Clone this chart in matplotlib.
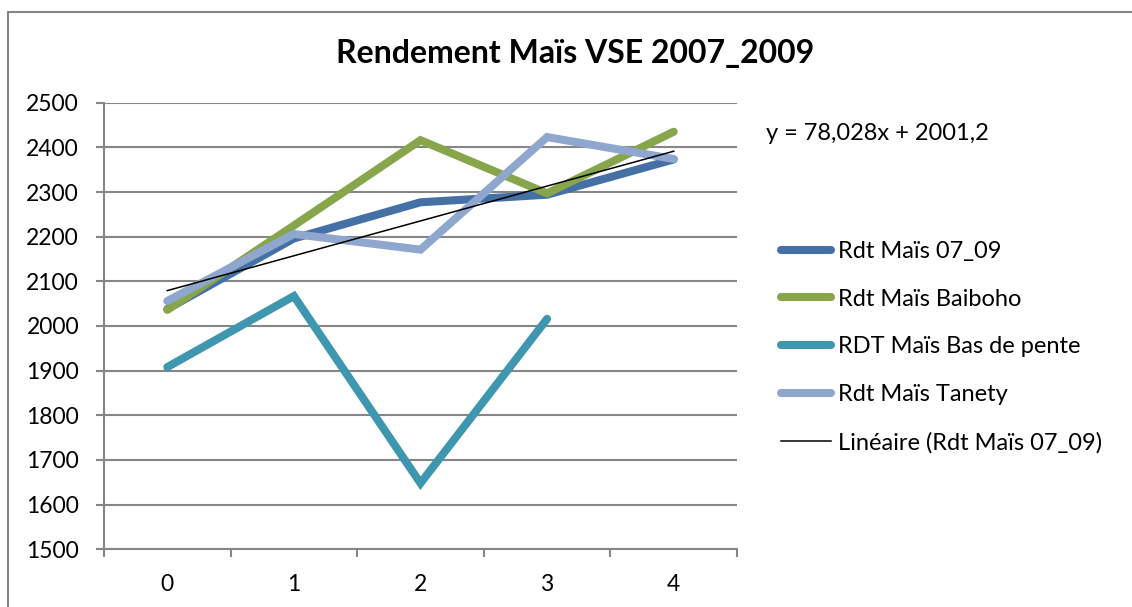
import matplotlib.pyplot as plt
import numpy as np
from matplotlib.lines import Line2D
from matplotlib.patches import Rectangle

# data
categories = [0, 1, 2, 3, 4]
rdt_07_09 = [2038, 2196, 2277, 2294, 2373]
rdt_baiboho = [2036, 2225, 2416, 2297, 2435]
rdt_bas_pente = [1908, 2067, 1648, 2016, np.nan]
rdt_tanety = [2056, 2206, 2171, 2423, 2374]
series_names = ["Rdt Maïs 07_09", "Rdt Maïs Baiboho", "RDT Maïs Bas de pente", "Rdt Maïs Tanety"]
trend_slope = 78.028
trend_intercept = 2001.2
trend_label = "Linéaire (Rdt Maïs 07_09)"
y_ticks = [1500, 1600, 1700, 1800, 1900, 2000, 2100, 2200, 2300, 2400, 2500]

colors = ["#4470A6", "#87A54A", "#3E97AF", "#8FA7CE"]
grid_col = "#868686"

plt.rcParams['font.family'] = ['Lato', 'DejaVu Sans']

W, H = 1132, 607
fig = plt.figure(figsize=(W / 100, H / 100), dpi=100, facecolor="white")
ax = fig.add_axes([104 / W, 1 - 549.3 / H, (737 - 104) / W, (549.3 - 102.7) / H])

x = np.arange(len(categories))
lw = 5.8
for vals, col in zip([rdt_07_09, rdt_baiboho, rdt_bas_pente, rdt_tanety], colors):
    ax.plot(x, vals, color=col, lw=lw, solid_capstyle="round", solid_joinstyle="miter")

# linear trend (Excel x runs 1..n)
xt = np.array([categories[0], categories[-1]])
ax.plot(xt, trend_slope * (xt + 1) + trend_intercept, color="black", lw=1.1, zorder=5)

ax.set_xlim(-0.5, len(categories) - 0.5)
ax.set_ylim(y_ticks[0], y_ticks[-1])
ax.set_yticks(y_ticks)
ax.yaxis.grid(True, color=grid_col, lw=1.5)
ax.set_axisbelow(True)

tick_fs = 16.5
ax.set_xticks(np.arange(-0.5, len(categories)), minor=False)
ax.set_xticklabels([])
ax.set_xticks(x, minor=True)
ax.set_xticklabels([str(c) for c in categories], minor=True)
ax.tick_params(axis="x", which="major", length=6, width=1.5, color=grid_col)
ax.tick_params(axis="x", which="minor", length=0, pad=18, labelsize=tick_fs)
ax.tick_params(axis="y", length=6, width=1.5, color=grid_col, pad=12, labelsize=tick_fs)

for s in ["top", "right"]:
    ax.spines[s].set_visible(False)
for s in ["left", "bottom"]:
    ax.spines[s].set_color(grid_col)
    ax.spines[s].set_linewidth(1.5)

fig.text(575 / W, 1 - 53 / H, "Rendement Maïs VSE 2007_2009", ha="center", va="center",
         fontsize=23, fontweight="bold")
fig.text(766 / W, 1 - 134 / H, "y = 78,028x + 2001,2", ha="left", va="center", fontsize=17)

leg_fs = 17
handles = [Line2D([0], [0], color=c, lw=lw, solid_capstyle="round") for c in colors]
handles.append(Line2D([0], [0], color="black", lw=1.1))
ax.legend(handles, series_names + [trend_label], loc="upper left",
          bbox_to_anchor=(781 / W, 1 - 241 / H), bbox_transform=fig.transFigure,
          frameon=False, fontsize=leg_fs, handlelength=2.1, handletextpad=0.3,
          labelspacing=1.13, borderpad=0, borderaxespad=0)

fig.patches.append(Rectangle((8 / W, -0.1), 1.2, 1 - 12 / H + 0.1, transform=fig.transFigure,
                             fill=False, edgecolor=grid_col, lw=1.5))

fig.savefig("out.png", dpi=100, facecolor="white")
